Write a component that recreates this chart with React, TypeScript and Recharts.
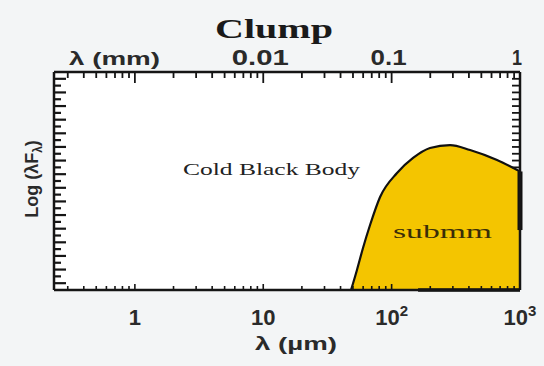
import React from 'react';
import { ComposedChart, Area, XAxis, YAxis, CartesianGrid, ReferenceLine } from 'recharts';

// log10(lambda / um) and relative log(lambda F_lambda) of the cold black body curve
const logLambda = [1.684, 1.73, 1.777, 1.832, 1.91, 2.042, 2.167, 2.299, 2.455, 2.611, 2.821, 3.0];
const logFlux = [0, 2.94, 6.17, 9.54, 13.65, 17.17, 19.38, 20.84, 21.28, 20.55, 19.08, 17.4];

const bottomTicks = [0, 1, 2, 3];
const bottomBase = ['1', '10', '10', '10'];
const bottomSup = ['', '', '2', '3'];
const topTicks = [1, 2, 3];
const topLabels = ['0.01', '0.1', '1'];
const topWidths = [57, 36, 10];
const decades = [-1, 0, 1, 2];
const minorMult = [2, 3, 4, 5, 6, 7, 8, 9];

const X_MIN = -0.63;
const X_MAX = 3;
const Y_MAX = 32;

const data = logLambda.map((x, i) => ({ x, y: logFlux[i] }));
const minorX = decades
  .flatMap((d) => minorMult.map((m) => d + Math.log10(m)))
  .filter((v) => v > X_MIN && v < X_MAX);
const xAllTicks = [...minorX, ...bottomTicks].sort((a, b) => a - b);
const yAll = Array.from({ length: Y_MAX - 1 }, (_, i) => i + 1);
const yRight = yAll.filter((v) => v >= 18);

const SANS = 'Liberation Sans, Arial, sans-serif';
const SERIF = 'Liberation Serif, Times New Roman, serif';
const INK = '#151515';

const isMajor = (v: number) => Math.abs(v - Math.round(v)) < 1e-6;

const BottomTick = (props: any) => {
  const { x, y, payload } = props;
  const v = payload.value;
  const i = bottomTicks.findIndex((t) => Math.abs(t - v) < 1e-6);
  return (
    <g>
      <line x1={x} y1={y} x2={x} y2={y - (i >= 0 ? 6 : 4)} stroke={INK} strokeWidth={1.6} />
      {i >= 0 ? (
        <text x={x} y={y + 35} textAnchor="middle" fontFamily={SANS} fontWeight="bold" fontSize={22} fill="#2a2a2a">
          {bottomBase[i]}
          {bottomSup[i] ? (
            <tspan dy={-9} fontSize={15}>
              {bottomSup[i]}
            </tspan>
          ) : null}
        </text>
      ) : null}
    </g>
  );
};

const TopTick = (props: any) => {
  const { x, y, payload } = props;
  const v = payload.value;
  const i = topTicks.findIndex((t) => Math.abs(t - v) < 1e-6);
  return (
    <g>
      <line x1={x} y1={y} x2={x} y2={y + (isMajor(v) ? 11 : 6)} stroke={INK} strokeWidth={1.8} />
      {i >= 0 ? (
        <text
          x={x - 3}
          y={y - 7}
          textAnchor="middle"
          fontFamily={SANS}
          fontWeight="bold"
          fontSize={22}
          fill="#2a2a2a"
          textLength={topWidths[i]}
          lengthAdjust="spacingAndGlyphs"
        >
          {topLabels[i]}
        </text>
      ) : null}
    </g>
  );
};

const LeftTick = (props: any) => {
  const { x, y, payload } = props;
  const len = payload.value % 2 === 1 ? 12 : 7;
  return <line x1={x} y1={y} x2={x + len} y2={y} stroke={INK} strokeWidth={2.2} />;
};

const RightTick = (props: any) => {
  const { x, y } = props;
  return <line x1={x} y1={y} x2={x - 8} y2={y} stroke={INK} strokeWidth={1.8} />;
};

const axisLineStyle = { stroke: INK, strokeWidth: 2.5 };

export default function App() {
  return (
    <div style={{ position: 'absolute', left: 0, top: 0, width: 544, height: 366, background: '#f3f5f6' }}>
      <ComposedChart
        width={544}
        height={366}
        data={data}
        margin={{ top: 71, right: 23, bottom: 75, left: 53 }}
      >
        <CartesianGrid xAxisId="b" yAxisId="l" horizontal={false} vertical={false} fill="#ffffff" />
        <XAxis
          xAxisId="b"
          dataKey="x"
          type="number"
          orientation="bottom"
          domain={[X_MIN, X_MAX]}
          allowDataOverflow
          ticks={xAllTicks}
          interval={0}
          tick={<BottomTick />}
          tickLine={false}
          tickSize={0}
          tickMargin={0}
          axisLine={axisLineStyle}
          height={1}
        />
        <XAxis
          xAxisId="t"
          dataKey="x"
          type="number"
          orientation="top"
          domain={[X_MIN, X_MAX]}
          allowDataOverflow
          ticks={xAllTicks}
          interval={0}
          tick={<TopTick />}
          tickLine={false}
          tickSize={0}
          tickMargin={0}
          axisLine={axisLineStyle}
          height={1}
        />
        <YAxis
          yAxisId="l"
          type="number"
          orientation="left"
          domain={[0, Y_MAX]}
          allowDataOverflow
          ticks={yAll}
          interval={0}
          tick={<LeftTick />}
          tickLine={false}
          tickSize={0}
          tickMargin={0}
          axisLine={axisLineStyle}
          width={1}
        />
        <YAxis
          yAxisId="r"
          dataKey="y"
          type="number"
          orientation="right"
          domain={[0, Y_MAX]}
          allowDataOverflow
          ticks={yRight}
          interval={0}
          tick={<RightTick />}
          tickLine={false}
          tickSize={0}
          tickMargin={0}
          axisLine={axisLineStyle}
          width={1}
        />

        <Area
          xAxisId="b"
          yAxisId="l"
          dataKey="y"
          type="monotone"
          baseValue={0}
          stroke="#111"
          strokeWidth={2.2}
          fill="#F4C500"
          fillOpacity={1}
          isAnimationActive={false}
          dot={false}
          activeDot={false}
        />
        <ReferenceLine
          xAxisId="b"
          yAxisId="l"
          segment={[{ x: 3, y: 17.4 }, { x: 3, y: 8.8 }]}
          stroke="#111"
          strokeWidth={5}
          ifOverflow="visible"
        />
        <ReferenceLine
          xAxisId="b"
          yAxisId="l"
          segment={[{ x: 2.206, y: 0 }, { x: 3, y: 0 }]}
          stroke="#111"
          strokeWidth={3.5}
          ifOverflow="visible"
        />
      </ComposedChart>
      <svg
        width={544}
        height={366}
        style={{ position: 'absolute', left: 0, top: 0, pointerEvents: 'none' }}
      >
        <text x={274} y={38} textAnchor="middle" fontFamily={SERIF} fontWeight="bold" fontSize={28} fill="#1a1a1a"
          textLength={118} lengthAdjust="spacingAndGlyphs">Clump</text>
        <text x={69} y={65} fontFamily={SANS} fontWeight="bold" fontSize={19} fill="#2a2a2a"
          textLength={91} lengthAdjust="spacingAndGlyphs">λ (mm)</text>
        <text x={296} y={350} textAnchor="middle" fontFamily={SANS} fontWeight="bold" fontSize={19} fill="#2a2a2a"
          textLength={82} lengthAdjust="spacingAndGlyphs">λ (µm)</text>
        <text x={38} y={179} textAnchor="middle" transform="rotate(-90 38 179)" fontFamily={SANS} fontWeight="bold"
          fontSize={18} fill="#2a2a2a">
          Log (λF<tspan dy={4} fontSize={12}>λ</tspan><tspan dy={-4}>)</tspan>
        </text>
        <text x={183} y={175} fontFamily={SERIF} fontSize={16} fill="#222" textLength={177} lengthAdjust="spacingAndGlyphs">
          Cold Black Body
        </text>
        <text x={393} y={238} fontFamily={SERIF} fontSize={19} fill="#3a2e08" textLength={99} lengthAdjust="spacingAndGlyphs">
          submm
        </text>
      </svg>
    </div>
  );
}
